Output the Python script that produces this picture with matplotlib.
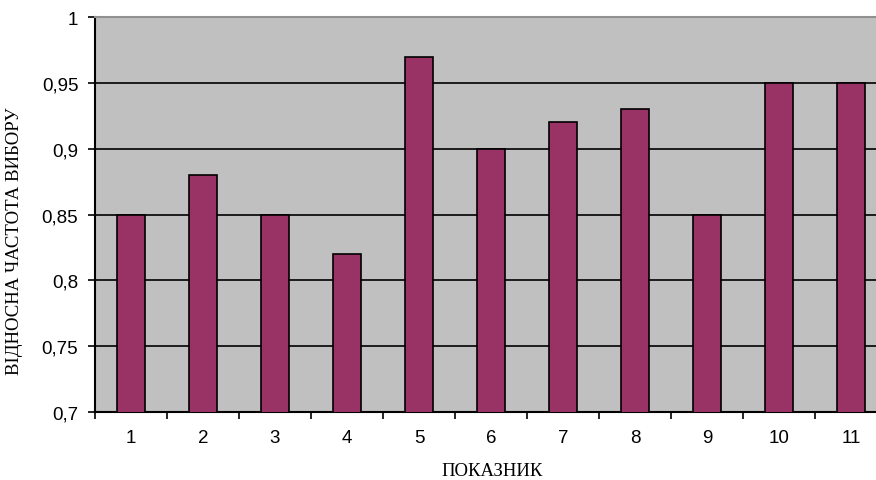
import numpy as np
import matplotlib.pyplot as plt
from matplotlib.ticker import FuncFormatter

# relative choice frequency per indicator
categories = ["1", "2", "3", "4", "5", "6", "7", "8", "9", "10", "11"]
values = [0.85, 0.88, 0.85, 0.82, 0.97, 0.90, 0.92, 0.93, 0.85, 0.95, 0.95]
yticks = [0.7, 0.75, 0.8, 0.85, 0.9, 0.95, 1.0]

W, H = 876, 481
fig = plt.figure(figsize=(W / 100, H / 100), dpi=100)
# plot area runs a little past the right edge of the figure
ax = fig.add_axes([95 / W, 1 - 413 / H, 792 / W, 395 / H])
ax.set_facecolor("#c0c0c0")

x = np.arange(len(categories))
ax.bar(x, values, width=0.4, bottom=0, color="#993366",
       edgecolor="black", linewidth=1.2, zorder=3)

ax.set_xlim(-0.5, len(categories) - 0.5)
ax.set_ylim(0.7, 1.0)
ax.set_yticks(yticks)
ax.yaxis.set_major_formatter(
    FuncFormatter(lambda v, p: ("%g" % round(v, 2)).replace(".", ",")))
ax.grid(axis="y", color="black", linewidth=1.2, zorder=1)
ax.set_axisbelow(True)

# category ticks sit between bars, labels centered under bars
ax.set_xticks(np.arange(len(categories) + 1) - 0.5)
ax.set_xticklabels([])
ax.set_xticks(x, minor=True)
ax.set_xticklabels(categories, minor=True)
ax.tick_params(axis="x", which="minor", length=0, pad=12)
ax.tick_params(axis="x", which="major", length=5, width=1.2, direction="out")
ax.tick_params(axis="y", length=5, width=1.2, direction="out", pad=7)
for lab in ax.get_xticklabels(minor=True) + ax.get_yticklabels():
    lab.set_fontfamily("Liberation Sans")
    lab.set_fontsize(13.5)

for s in ["left", "bottom"]:
    ax.spines[s].set_linewidth(1.5)
    ax.spines[s].set_color("black")
ax.spines["top"].set_color("#909090")
ax.spines["top"].set_linewidth(1.5)
ax.spines["right"].set_visible(False)

fig.text(492 / W, 1 - 472 / H, "ПОКАЗНИК", family="Liberation Serif",
         fontsize=13.5, ha="center", va="center")
fig.text(15 / W, 1 - 241 / H, "ВІДНОСНА ЧАСТОТА ВИБОРУ", family="Liberation Serif",
         fontsize=13.5, ha="center", va="center", rotation=90)

fig.savefig("out.png", dpi=100)
